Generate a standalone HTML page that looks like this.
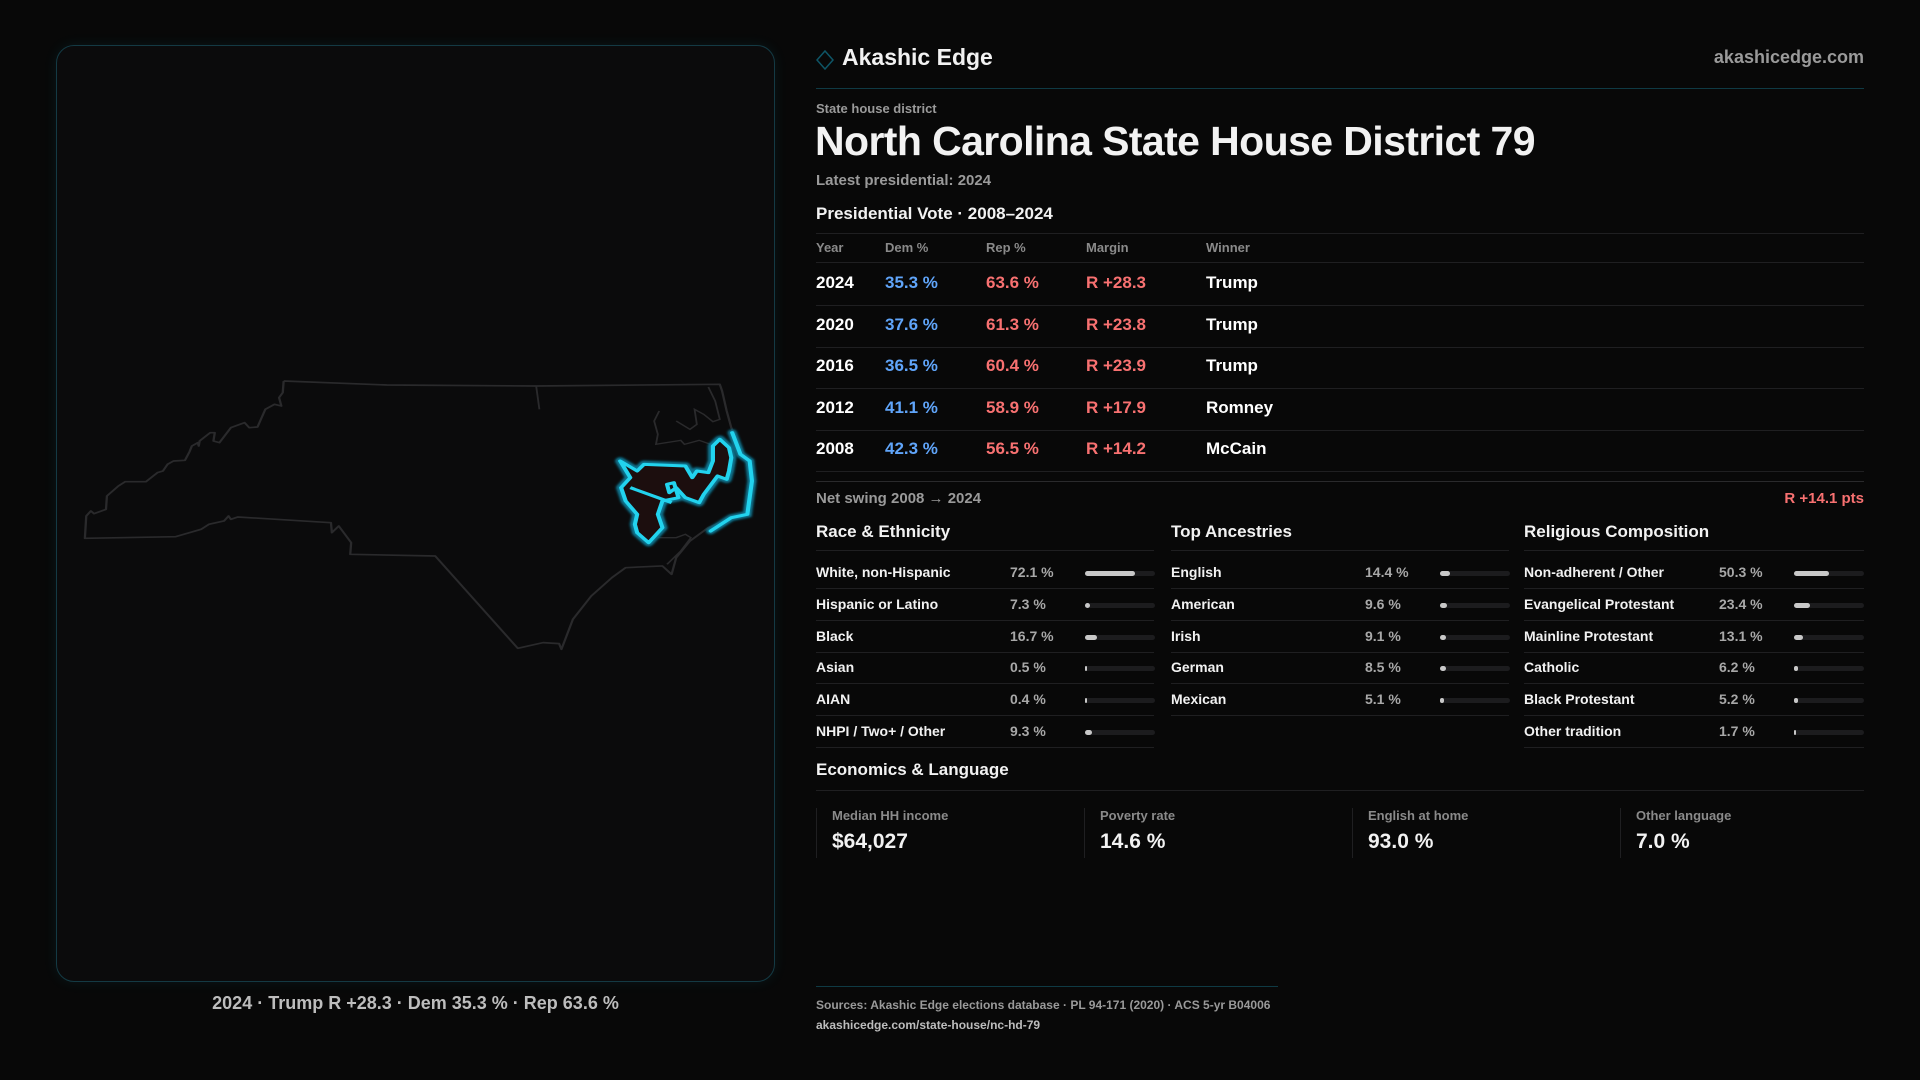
<!DOCTYPE html>
<html><head><meta charset="utf-8">
<style>
*{margin:0;padding:0;box-sizing:border-box}
body{width:1920px;height:1080px;background:#080808;font-family:"Liberation Sans",sans-serif;color:#f2f2f2;position:relative;overflow:hidden}
.abs{position:absolute;white-space:nowrap}
#mapPanel{position:absolute;left:56px;top:45px;width:719px;height:937px;border:1px solid #143a44;border-radius:18px;background:#0b0b0c;box-shadow:0 0 14px rgba(34,211,238,0.08)}
.hline{position:absolute;height:1px;background:#1f1f21}
.gray{color:#9a9a9a}
.sec{font-size:17px;font-weight:bold}
.bar{position:absolute;height:5px;border-radius:3px;background:#1c1c1e}
.fill{position:absolute;left:0;top:0;height:5px;border-radius:3px;background:#c8c8c8}
.card{position:absolute;top:808px;height:50px;border-left:1px solid #1f1f21}
</style></head><body>
<div id="mapPanel">
<svg width="719" height="937" style="position:absolute;left:-1px;top:-1px">
<defs><filter id="glow" x="-20%" y="-20%" width="140%" height="140%"><feGaussianBlur stdDeviation="3"/></filter></defs>
<g transform="translate(5,316) scale(0.4591,0.3333)">
<polyline fill="none" stroke="#2a2a2c" stroke-width="5" stroke-linejoin="round" points="485,60 710,72 1035,75 1435,70 1440,90 1450,150 1460,200 1475,250 1490,290 1505,350 1500,460 1460,470 1410,500 1370,540 1340,590 1330,640 1310,615 1230,620 1200,650 1155,705 1115,775 1090,865 1085,848 1050,845 995,862 815,585 630,580 632,545 605,495 590,515 588,485 385,468 370,475 365,465 355,480 322,490 305,505 250,527 52,532 55,465 65,450 72,458 98,445 100,405 125,375 140,362 185,362 210,335 222,330 232,310 245,300 270,298 280,272 285,255 298,245 300,255 302,240 325,215 335,215 332,240 345,245 370,200 400,185 410,200 428,198 445,145 465,130 480,135 475,110 483,95 485,60"/>
<polyline fill="none" stroke="#2a2a2c" stroke-width="4" points="1035,75 1042,145"/>
<polyline fill="none" stroke="#2a2a2c" stroke-width="4" points="1303,150 1292,180 1300,220 1296,250 1350,238 1358,250 1390,238 1415,250"/>
<polyline fill="none" stroke="#2a2a2c" stroke-width="4" points="1340,180 1370,205 1385,190 1380,145 1400,160 1420,182 1435,175 1425,120 1410,78"/>
<polyline fill="none" stroke="#2a2a2c" stroke-width="4" points="1300,530 1340,530 1360,520 1372,530 1350,570 1320,610"/>
<g>
<polygon fill="#1c0e0e" stroke="#0e7490" stroke-width="22" stroke-linejoin="round" filter="url(#glow)" points="1218,300 1255,330 1270,310 1360,315 1375,350 1385,330 1410,335 1420,300 1420,255 1435,235 1455,260 1460,290 1455,330 1450,355 1430,345 1400,400 1390,425 1360,410 1340,380 1325,395 1320,370 1335,365 1345,410 1310,420 1300,460 1310,500 1280,545 1255,515 1250,490 1255,460 1230,420 1220,380 1240,350"/>
<polygon fill="#1c0e0e" stroke="#22d3ee" stroke-width="9" stroke-linejoin="round" points="1218,300 1255,330 1270,310 1360,315 1375,350 1385,330 1410,335 1420,300 1420,255 1435,235 1455,260 1460,290 1455,330 1450,355 1430,345 1400,400 1390,425 1360,410 1340,380 1325,395 1320,370 1335,365 1345,410 1310,420 1300,460 1310,500 1280,545 1255,515 1250,490 1255,460 1230,420 1220,380 1240,350"/>
<polyline fill="none" stroke="#22d3ee" stroke-width="9" points="1240,380 1300,410 1330,425"/>
<polyline fill="none" stroke="#0e7490" stroke-width="20" stroke-linecap="round" filter="url(#glow)" points="1462,215 1480,280 1500,300 1505,360 1495,460 1460,470 1415,510"/>
<polyline fill="none" stroke="#22d3ee" stroke-width="9" stroke-linecap="round" stroke-linejoin="round" points="1462,215 1480,280 1500,300 1505,360 1495,460 1460,470 1415,510"/>
</g></g></svg>
</div>
<div class="abs" style="left:56px;width:719px;text-align:center;top:993px;font-size:18px;color:#bdbdbd;font-weight:bold">2024 · Trump R +28.3 · Dem 35.3 % · Rep 63.6 %</div>

<svg class="abs" style="left:816px;top:50px" width="18" height="20"><polygon points="9,1 17,10 9,19 1,10" fill="none" stroke="#0e5566" stroke-width="1.5"/></svg>
<div class="abs" style="left:842px;top:44px;font-size:23px;font-weight:bold">Akashic Edge</div>
<div class="abs gray" style="right:56px;top:47px;font-size:18px;font-weight:bold">akashicedge.com</div>
<div class="hline" style="left:816px;width:1048px;top:88px;background:#0f3a44"></div>
<div class="abs gray" style="left:816px;top:101px;font-size:13px;font-weight:bold">State house district</div>
<div class="abs" style="left:815px;top:118px;font-size:41px;font-weight:bold;letter-spacing:-0.6px">North Carolina State House District 79</div>
<div class="abs gray" style="left:816px;top:172px;font-size:15px;font-weight:bold">Latest presidential: 2024</div>
<div class="abs sec" style="left:816px;top:204px">Presidential Vote · 2008–2024</div>
<div class="hline" style="left:816px;width:1048px;top:233px"></div>
<div id="table"></div>
<div class="hline" style="left:816px;width:1048px;top:481px;background:#2a2a2c"></div>
<div class="abs gray" style="left:816px;top:490px;font-size:15px;font-weight:bold">Net swing 2008 → 2024</div>
<div class="abs" style="right:56px;top:490px;font-size:15px;font-weight:bold;color:#f87171">R +14.1 pts</div>
<div id="demo"></div>
<div class="abs sec" style="left:816px;top:760px">Economics &amp; Language</div>
<div class="hline" style="left:816px;width:1048px;top:790px"></div>
<div id="cards"></div>
<div class="hline" style="left:816px;width:462px;top:986px;background:#0f3a44"></div>
<div class="abs gray" style="left:816px;top:998px;font-size:12px;font-weight:bold">Sources: Akashic Edge elections database · PL 94-171 (2020) · ACS 5-yr B04006</div>
<div class="abs" style="left:816px;top:1018px;font-size:12px;font-weight:bold;color:#bdbdbd">akashicedge.com/state-house/nc-hd-79</div>
<script>
const years=[2024,2020,2016,2012,2008];
const demPct=[35.3,37.6,36.5,41.1,42.3];
const repPct=[63.6,61.3,60.4,58.9,56.5];
const margins=[28.3,23.8,23.9,17.9,14.2];
const winners=["Trump","Trump","Trump","Romney","McCain"];
const raceLabels=["White, non-Hispanic","Hispanic or Latino","Black","Asian","AIAN","NHPI / Two+ / Other"];
const raceValues=[72.1,7.3,16.7,0.5,0.4,9.3];
const ancLabels=["English","American","Irish","German","Mexican"];
const ancValues=[14.4,9.6,9.1,8.5,5.1];
const relLabels=["Non-adherent / Other","Evangelical Protestant","Mainline Protestant","Catholic","Black Protestant","Other tradition"];
const relValues=[50.3,23.4,13.1,6.2,5.2,1.7];
const statLabels=["Median HH income","Poverty rate","English at home","Other language"];
const statValues=["$64,027","14.6 %","93.0 %","7.0 %"];

function div(parent,style,text,cls){const d=document.createElement('div');d.className=cls||'abs';d.style.cssText=style;if(text!==undefined)d.textContent=text;parent.appendChild(d);return d;}
const T=document.getElementById('table');
const cols=[816,885,986,1086,1206];
const hdrs=["Year","Dem %","Rep %","Margin","Winner"];
hdrs.forEach((h,i)=>{const e=div(T,`left:${cols[i]}px;top:240px;font-size:13px;color:#8a8a8a;font-weight:bold`,h);

});
div(T,'left:816px;width:1048px;top:262px','', 'hline');
years.forEach((y,i)=>{const top=273+i*41.6;
const cells=[[y,'#fff'],[demPct[i].toFixed(1)+' %','#60a5fa'],[repPct[i].toFixed(1)+' %','#f87171'],['R +'+margins[i].toFixed(1),'#f87171'],[winners[i],'#fff']];
cells.forEach((c,j)=>{const e=div(T,`left:${cols[j]}px;top:${top}px;font-size:17px;font-weight:bold;color:${c[1]}`,c[0]);

});
const ln=div(T,`left:816px;width:1048px;top:${305+i*41.6}px`,'','hline');

});

const D=document.getElementById('demo');
function section(x,w,title,labels,values,valX,barX,slug){
const h=div(D,`left:${x}px;top:522px;font-size:17px;font-weight:bold`,title);


div(D,`left:${x}px;width:${w}px;top:550px`,'','hline');
labels.forEach((lb,i)=>{const top=564+i*31.8;
const a=div(D,`left:${x}px;top:${top}px;font-size:14px;font-weight:bold`,lb);


const v=div(D,`left:${valX}px;top:${top}px;font-size:14px;color:#a8a8a8;font-weight:bold`,values[i].toFixed(1)+' %');


const b=div(D,`left:${barX}px;top:${top+7}px;width:70px`,'','bar');


const f=div(b,`width:${Math.max(2,values[i]/100*70)}px`,'','fill');


div(D,`left:${x}px;width:${w}px;top:${top+24}px`,'','hline');});}
section(816,338,"Race & Ethnicity",raceLabels,raceValues,1010,1085,'race');
section(1171,338,"Top Ancestries",ancLabels,ancValues,1365,1440,'ancestry');
section(1524,340,"Religious Composition",relLabels,relValues,1719,1794,'religion');

const C=document.getElementById('cards');
statLabels.forEach((s,i)=>{const c=div(C,`left:${816+i*268}px;width:268px`,'','card');


div(c,'left:15px;top:0px;font-size:13px;color:#8a8a8a;font-weight:bold',s);
div(c,'left:15px;top:22px;font-size:21px;font-weight:bold',statValues[i]);});
</script>
</body></html>
